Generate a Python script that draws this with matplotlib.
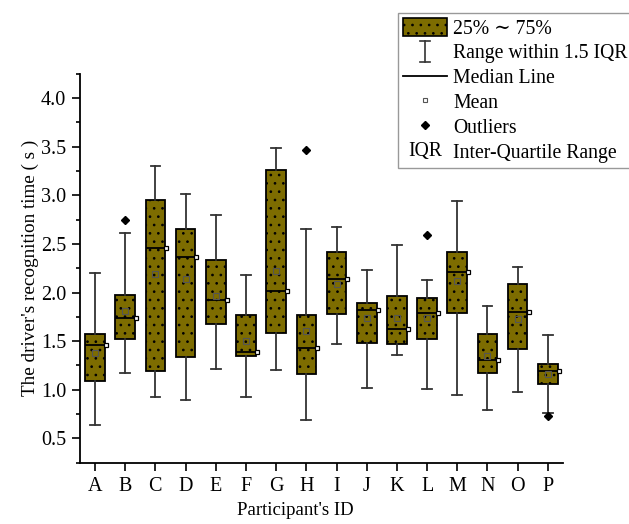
import matplotlib
matplotlib.use("Agg")
import matplotlib.pyplot as plt
import numpy as np
from matplotlib.patches import Patch
from matplotlib.lines import Line2D
from matplotlib.text import Text
from matplotlib.legend_handler import HandlerBase

plt.rcParams['font.family'] = ['Liberation Serif', 'DejaVu Serif']
plt.rcParams['hatch.linewidth'] = 0.7

# data
participants = list("ABCDEFGHIJKLMNOP")
q1 = [1.09, 1.52, 1.19, 1.34, 1.68, 1.35, 1.58, 1.16, 1.78, 1.48, 1.47, 1.52, 1.79, 1.17, 1.42, 1.06]
q3 = [1.57, 1.98, 2.95, 2.65, 2.34, 1.77, 3.26, 1.77, 2.42, 1.89, 1.96, 1.94, 2.42, 1.57, 2.09, 1.27]
medians = [1.46, 1.74, 2.46, 2.37, 1.92, 1.39, 2.02, 1.43, 2.14, 1.82, 1.63, 1.79, 2.21, 1.31, 1.80, 1.19]
means = [1.38, 1.81, 2.19, 2.14, 1.97, 1.50, 2.22, 1.60, 2.09, 1.74, 1.74, 1.74, 2.12, 1.35, 1.73, 1.16]
whisk_lo = [0.64, 1.17, 0.93, 0.90, 1.21, 0.93, 1.20, 0.69, 1.47, 1.02, 1.36, 1.01, 0.95, 0.79, 0.98, 0.76]
whisk_hi = [2.20, 2.61, 3.30, 3.01, 2.80, 2.18, 3.49, 2.65, 2.67, 2.23, 2.49, 2.13, 2.94, 1.86, 2.26, 1.56]
outliers = [[], [2.75], [], [], [], [], [], [3.47], [], [], [], [2.59], [], [], [], [0.73]]

box_color = '#7d6c00'
positions = np.arange(1, len(participants) + 1)

stats = []
for i, name in enumerate(participants):
    stats.append(dict(label=name, q1=q1[i], q3=q3[i], med=medians[i], mean=means[i],
                      whislo=whisk_lo[i], whishi=whisk_hi[i], fliers=outliers[i]))

fig = plt.figure(figsize=(6.29, 5.24), dpi=100)
ax = fig.add_axes([0.127, 0.117, 0.768, 0.742])

bp = ax.bxp(stats, positions=positions, widths=0.65, capwidths=0.32,
            patch_artist=True, showmeans=True,
            boxprops=dict(facecolor=box_color, edgecolor='black', linewidth=1.3, hatch='..'),
            medianprops=dict(color='black', linewidth=1.3),
            whiskerprops=dict(color='#333333', linewidth=1.3),
            capprops=dict(color='#333333', linewidth=1.3),
            meanprops=dict(marker='s', markerfacecolor='none', markeredgecolor='#555555',
                           markersize=5, markeredgewidth=0.8),
            flierprops=dict(marker='D', markerfacecolor='black', markeredgecolor='black',
                            markersize=4))

# small square on the right edge of each box at the median
ax.plot(positions + 0.36, medians, 's', mfc='white', mec='black', ms=3.5, mew=0.9, ls='none')

ax.set_xlim(0.5, 16.5)
ax.set_ylim(0.25, 4.25)
ax.set_xticks(positions)
ax.set_xticklabels(participants)
ax.set_yticks(np.arange(0.5, 4.01, 0.5))
ax.set_yticks(np.arange(0.25, 4.26, 0.25), minor=True)
ax.yaxis.set_major_formatter(matplotlib.ticker.FormatStrFormatter('%.1f'))
ax.tick_params(axis='both', which='major', direction='out', length=6, width=1.2,
               labelsize=14.5, pad=4)
ax.tick_params(axis='y', which='minor', direction='out', length=3, width=1.2)
for side in ['top', 'right']:
    ax.spines[side].set_visible(False)
for side in ['left', 'bottom']:
    ax.spines[side].set_linewidth(1.3)

ax.set_xlabel("Participant's ID", fontsize=13.5)
ax.xaxis.set_label_coords(0.445, -0.10)
ax.set_ylabel("The driver's recognition time ( s )", fontsize=13.8, labelpad=1)


class Key:
    pass


class WhiskerHandler(HandlerBase):
    def create_artists(self, legend, orig_handle, xdescent, ydescent, width, height, fontsize, trans):
        cx = width / 2 - xdescent
        y0 = -ydescent - 0.1 * height
        y1 = height - ydescent + 0.1 * height
        w = 0.12 * width
        return [Line2D([cx, cx], [y0, y1], color='#333333', lw=1.2, transform=trans),
                Line2D([cx - w, cx + w], [y0, y0], color='#333333', lw=1.2, transform=trans),
                Line2D([cx - w, cx + w], [y1, y1], color='#333333', lw=1.2, transform=trans)]


class TextHandler(HandlerBase):
    def create_artists(self, legend, orig_handle, xdescent, ydescent, width, height, fontsize, trans):
        return [Text(width / 2 - xdescent, height / 2 - ydescent, 'IQR', ha='center', va='center',
                     fontsize=fontsize, transform=trans)]


whisker_key = Key()
iqr_key = Key()
handles = [
    Patch(facecolor=box_color, edgecolor='black', hatch='..', linewidth=1.2),
    whisker_key,
    Line2D([], [], color='black', lw=1.3),
    Line2D([], [], marker='s', ls='none', mfc='none', mec='#555555', ms=3.5, mew=0.8),
    Line2D([], [], marker='D', ls='none', mfc='black', mec='black', ms=4),
    iqr_key,
]
labels = ["25% \u223c 75%", "Range within 1.5 IQR", "Median Line", "Mean", "Outliers",
          "Inter-Quartile Range"]

leg = fig.legend(handles, labels, loc='upper left', bbox_to_anchor=(398 / 629, 1 - 13 / 524),
                 bbox_transform=fig.transFigure, fontsize=14.2, frameon=True, fancybox=False,
                 edgecolor='#999999', framealpha=1, borderpad=0.25, labelspacing=0.22,
                 handlelength=2.25, handleheight=1.0, handletextpad=0.3, borderaxespad=0,
                 handler_map={whisker_key: WhiskerHandler(), iqr_key: TextHandler()})
leg.get_frame().set_linewidth(1.0)

fig.savefig('out.png', dpi=100)
